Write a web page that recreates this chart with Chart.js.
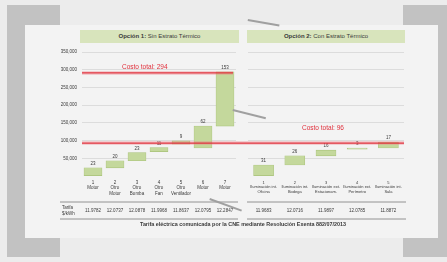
<!DOCTYPE html>
<html>
<head>
<meta charset="utf-8">
<script src="https://cdn.jsdelivr.net/npm/chart.js@4"></script>
<style>
  html,body{margin:0;padding:0;}
  body{width:447px;height:262px;background:#ececec;overflow:hidden;font-family:"Liberation Sans",Arial,sans-serif;}
  #wrap{position:absolute;left:0;top:0;width:447px;height:262px;filter:blur(0.4px);}
  .frame{position:absolute;background:#c2c2c2;}
  .panel{position:absolute;left:25px;top:25px;width:413px;height:213px;background:#f3f3f3;}
  .tbox{position:absolute;top:30px;height:13px;background:#d8e4bc;color:#3a3a3a;font-size:6px;line-height:13px;text-align:center;white-space:nowrap;}
  .streak{position:absolute;height:2px;background:#a0a0a0;transform-origin:0 0;}
  #caption{position:absolute;left:40px;width:406px;top:221px;text-align:center;font-size:5.4px;font-weight:bold;color:#3a3a3a;white-space:nowrap;}
  canvas{position:absolute;top:0;}
</style>
</head>
<body>
<div id="wrap">
  <div class="panel"></div>
  <!-- left bracket -->
  <div class="frame" style="left:7px;top:5px;width:18px;height:252px;"></div>
  <div class="frame" style="left:7px;top:5px;width:53px;height:20px;"></div>
  <div class="frame" style="left:7px;top:238px;width:53px;height:19px;"></div>
  <!-- right bracket -->
  <div class="frame" style="left:403px;top:5px;width:44px;height:20px;"></div>
  <div class="frame" style="left:438px;top:5px;width:9px;height:252px;"></div>
  <div class="frame" style="left:403px;top:238px;width:44px;height:19px;"></div>

  <div class="tbox" style="left:80px;width:159px;"><b>Opción 1:</b> Sin Estrato Térmico</div>
  <div class="tbox" style="left:247px;width:158px;"><b>Opción 2:</b> Con Estrato Térmico</div>

  <canvas id="c1" width="242" height="262" style="left:0;"></canvas>
  <canvas id="c2" width="205" height="262" style="left:242px;"></canvas>

  <div class="streak" style="left:248px;top:19px;width:32px;transform:rotate(10deg);"></div>
  <div class="streak" style="left:233px;top:109px;width:34px;transform:rotate(14deg);"></div>
  <div class="streak" style="left:210px;top:198px;width:34px;transform:rotate(20deg);"></div>

  <div id="caption">Tarifa eléctrica comunicada por la CNE mediante Resolución Exenta 882/07/2013</div>
</div>
<script>
// ---------- DATA ----------
const yTicks = [0, 50000, 100000, 150000, 200000, 250000, 300000, 350000];

const opt1Numbers = ["1", "2", "3", "4", "5", "6", "7"];
const opt1Names   = [["Motor"], ["Otro", "Motor"], ["Otro", "Bomba"], ["Otro", "Fan"], ["Otro", "Ventilador"], ["Motor"], ["Motor"]];
const opt1Start   = [0, 23000, 43000, 69000, 90000, 79000, 141000];
const opt1End     = [23000, 43000, 66000, 80000, 99000, 141000, 294000];
const opt1Labels  = ["23", "20", "23", "11", "9", "62", "153"];
const opt1Tarifa  = ["11.9782", "12.0737", "12.0878", "11.9968", "11.8637", "12.0795", "12.2847"];

const opt2Numbers = ["1", "2", "3", "4", "5"];
const opt2Names   = [["Iluminación int.", "Oficina"], ["Iluminación int.", "Bodega"], ["Iluminación ext.", "Estacionam."], ["Iluminación ext.", "Perímetro"], ["Iluminación int.", "Sala"]];
const opt2Start   = [0, 31000, 57000, 76000, 79000];
const opt2End     = [31000, 57000, 73000, 79000, 96000];
const opt2Labels  = ["31", "26", "16", "3", "17"];
const opt2Tarifa  = ["11.9683", "12.0716", "11.9897", "12.0785", "11.8872"];

const totalLabels = ["Costo total: 294", "Costo total: 96"];
const totalValues = [291000, 93000];
const tarifaTitle = ["Tarifa", "$/kWh"];

// ---------- STYLE ----------
const FONT = "Liberation Sans";
const TXT = "#3a3a3a";
const RED = "#e0303c";

const barsAndText = {
  id: "barsAndText",
  afterDatasetsDraw(chart, args, o) {
    const ctx = chart.ctx, x = chart.scales.x, y = chart.scales.y, area = chart.chartArea;
    ctx.save();
    // value labels above bars
    ctx.fillStyle = TXT; ctx.font = "4.5px " + FONT; ctx.textAlign = "center"; ctx.textBaseline = "bottom";
    o.valueLabels.forEach((t, i) => {
      const top = Math.max(o.start[i], o.end[i]);
      ctx.fillText(t, x.getPixelForValue(i), y.getPixelForValue(top) - 2);
    });
    // red reference lines
    o.refs.forEach(r => {
      const py = y.getPixelForValue(r.value);
      const l = r.x0 !== undefined ? r.x0 : area.left;
      const rr = r.x1 !== undefined ? r.x1 : area.right;
      ctx.strokeStyle = "rgba(240,120,130,0.3)"; ctx.lineWidth = 4;
      ctx.beginPath(); ctx.moveTo(l, py); ctx.lineTo(rr, py); ctx.stroke();
      ctx.strokeStyle = RED; ctx.lineWidth = 1.3;
      ctx.beginPath(); ctx.moveTo(l, py); ctx.lineTo(rr, py); ctx.stroke();
      if (r.text) {
        ctx.fillStyle = RED; ctx.font = "6.5px " + FONT; ctx.textAlign = "left"; ctx.textBaseline = "bottom";
        ctx.fillText(r.text, r.x, py - r.dy);
      }
    });
    // table row
    const lineL = o.tableLeft, lineR = area.right + 2;
    ctx.strokeStyle = "#7a7a7a"; ctx.lineWidth = 0.8;
    [202, 219].forEach(ly => { ctx.beginPath(); ctx.moveTo(lineL, ly); ctx.lineTo(lineR, ly); ctx.stroke(); });
    ctx.fillStyle = TXT; ctx.font = "4.5px " + FONT; ctx.textAlign = "center"; ctx.textBaseline = "middle";
    o.tarifa.forEach((t, i) => ctx.fillText(t, x.getPixelForValue(i), 211));
    if (o.tableTitle) {
      ctx.textAlign = "left";
      ctx.fillText(o.tableTitle[0], 62, 208);
      ctx.fillText(o.tableTitle[1], 62, 214);
    }
    ctx.restore();
  }
};

function makeChart(id, nums, names, start, end, labels, tarifa, cfg) {
  const catLabels = nums.map((n, i) => [n].concat(names[i]));
  return new Chart(document.getElementById(id), {
    type: "bar",
    data: {
      labels: catLabels,
      datasets: [{
        data: start.map((s, i) => [s, end[i]]),
        backgroundColor: "#c4d89c",
        borderColor: "#a8c279",
        borderWidth: 0.6,
        borderSkipped: false,
        barThickness: cfg.barThickness
      }]
    },
    options: {
      responsive: false,
      animation: false,
      events: [],
      layout: { padding: cfg.padding },
      plugins: {
        legend: { display: false }, tooltip: { enabled: false },
        barsAndText: { valueLabels: labels, start: start, end: end, refs: cfg.refs, tarifa: tarifa, tableLeft: cfg.tableLeft, tableTitle: cfg.tableTitle }
      },
      scales: {
        x: {
          grid: { display: false, drawTicks: false },
          border: { display: false },
          ticks: { color: TXT, font: { family: FONT, size: cfg.xFont }, padding: 4, maxRotation: 0, autoSkip: false },
          afterFit: s => { s.height = 26; }
        },
        y: {
          min: 0, max: 350000,
          afterBuildTicks: s => { s.ticks = yTicks.map(v => ({ value: v })); },
          grid: { color: c => (c.tick && c.tick.value === 0) ? "rgba(0,0,0,0)" : "#d6d6d6", lineWidth: 0.8, drawTicks: false },
          border: { display: false },
          ticks: {
            display: cfg.showY, color: TXT, font: { family: FONT, size: 4.5 }, padding: 5,
            callback: v => v === 0 ? "" : v.toLocaleString("en-US")
          },
          afterFit: s => { s.width = cfg.yWidth; }
        }
      }
    },
    plugins: [barsAndText]
  });
}

makeChart("c1", opt1Numbers, opt1Names, opt1Start, opt1End, opt1Labels, opt1Tarifa, {
  barThickness: 18, xFont: 4.5,
  padding: { left: 42, right: 6, top: 52, bottom: 60 },
  yWidth: 40, showY: true,
  tableLeft: 60, tableTitle: tarifaTitle,
  refs: [
    { value: totalValues[0], text: totalLabels[0], x: 122, dy: 2, x1: 233 },
    { value: totalValues[1], x1: 242 }
  ]
});

makeChart("c2", opt2Numbers, opt2Names, opt2Start, opt2End, opt2Labels, opt2Tarifa, {
  barThickness: 20, xFont: 4,
  padding: { left: 6, right: 43, top: 52, bottom: 60 },
  yWidth: 0, showY: false,
  tableLeft: 5, tableTitle: null,
  refs: [
    { value: totalValues[1], text: totalLabels[1], x: 60, dy: 12, x0: 0 }
  ]
});
</script>
</body>
</html>
